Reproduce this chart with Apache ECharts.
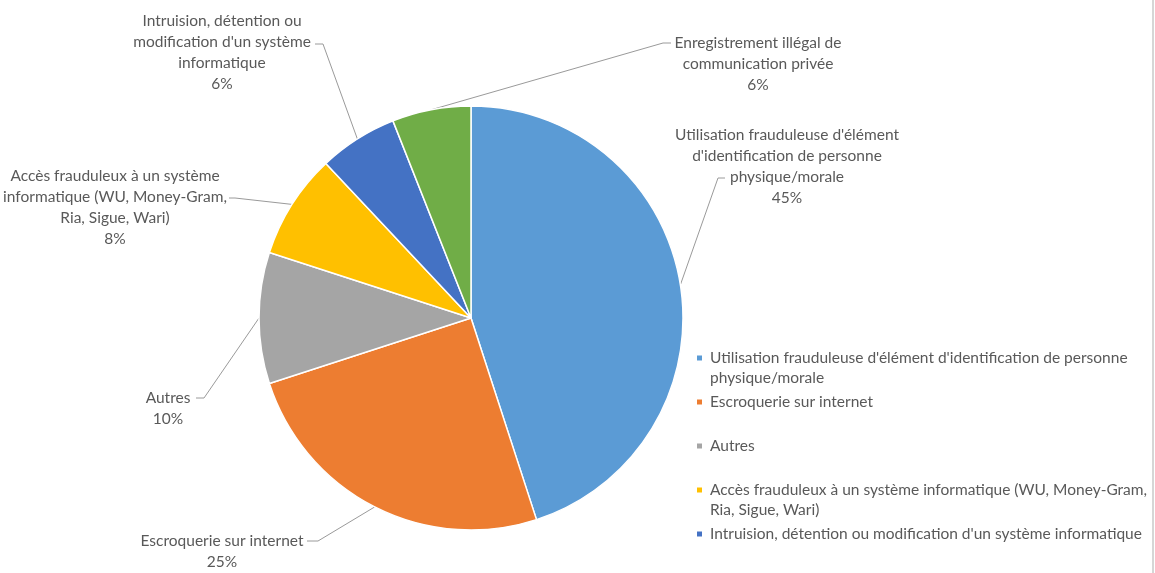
<!DOCTYPE html>
<html lang="fr">
<head>
<meta charset="utf-8">
<title>Répartition des infractions cybercriminelles</title>
<script src="https://cdn.jsdelivr.net/npm/echarts@6/dist/echarts.min.js"></script>
<style>
  html, body { margin: 0; padding: 0; background: #fff; }
  #chart { width: 1152px; height: 573px; border-right: 2px solid #d6d6d6; }
</style>
</head>
<body>
<div id="chart"></div>
<script>
// Infraction categories (legend / series names)
const categories = [
  "Utilisation frauduleuse d'élément d'identification de personne physique/morale",
  "Escroquerie sur internet",
  "Autres",
  "Accès frauduleux à un système informatique (WU, Money-Gram, Ria, Sigue, Wari)",
  "Intruision, détention ou modification d'un système informatique",
  "Enregistrement illégal de communication privée"
];

// Share of each category, in percent
const shares = [45, 25, 10, 8, 6, 6];

// Text of the data labels, broken over several lines
const labelNames = [
  "Utilisation frauduleuse d'élément\nd'identification de personne\nphysique/morale",
  "Escroquerie sur internet",
  "Autres",
  "Accès frauduleux à un système\ninformatique (WU, Money-Gram,\nRia, Sigue, Wari)",
  "Intruision, détention ou\nmodification d'un système\ninformatique",
  "Enregistrement illégal de\ncommunication privée"
];

// Text of the legend entries
const legendNames = [
  "Utilisation frauduleuse d'élément d'identification de personne\nphysique/morale",
  "Escroquerie sur internet",
  "Autres",
  "Accès frauduleux à un système informatique (WU, Money-Gram,\nRia, Sigue, Wari)",
  "Intruision, détention ou modification d'un système informatique",
  "Enregistrement illégal de communication privée"
];

// The legend box only has room for the first five entries
const legendShown = 5;

const colors = ['#5B9BD5', '#ED7D31', '#A5A5A5', '#FFC000', '#4472C4', '#70AD47'];

const FONT = "Lato, 'Noto Sans', sans-serif";
const TEXT = '#595959';

// Where each label block sits (centre x, top y) and where its leader line bends / ends
const labelPlacement = [
  { x: 787, y: 124, bend: [718, 178], end: [725, 178] },
  { x: 222, y: 530, bend: [318, 541], end: [307, 541] },
  { x: 168, y: 387, bend: [204, 398], end: [196, 398] },
  { x: 115, y: 165, bend: [235, 198], end: [229, 198] },
  { x: 222, y: 10,  bend: [323, 44],  end: [315, 44] },
  { x: 758, y: 32,  bend: [663, 43],  end: [671, 43] }
];

// Legend marker: a small square near the top of a 40px-tall box, so it lines up with the first text line
const legendIcon = 'path://M0,0M5,40M0,7.5h5v5h-5z';

const chart = echarts.init(document.getElementById('chart'), null, { renderer: 'canvas' });

const option = {
  animation: false,
  backgroundColor: '#fff',
  color: colors,
  legend: {
    orient: 'vertical',
    left: 697,
    top: 348,
    height: 400,
    padding: 0,
    itemGap: 4,
    itemWidth: 5,
    itemHeight: 40,
    selectedMode: false,
    data: categories.slice(0, legendShown).map(name => ({ name, icon: legendIcon })),
    itemStyle: { borderWidth: 0 },
    formatter: name => {
      const t = legendNames[categories.indexOf(name)];
      return t.indexOf('\n') >= 0 ? t : t + '\n ';
    },
    textStyle: {
      color: TEXT,
      fontFamily: FONT,
      fontSize: 15.5,
      lineHeight: 20,
      padding: [0, 0, 0, 3]
    }
  },
  series: [{
    type: 'pie',
    center: [471, 318],
    radius: 212,
    startAngle: 90,
    clockwise: true,
    avoidLabelOverlap: false,
    itemStyle: { borderColor: '#fff', borderWidth: 1.5 },
    label: {
      show: true,
      position: 'outside',
      color: TEXT,
      fontFamily: FONT,
      fontSize: 15.5,
      lineHeight: 21,
      align: 'center',
      formatter: p => labelNames[p.dataIndex] + '\n' + Math.round(p.percent) + '%'
    },
    labelLine: {
      show: true,
      length: 20,
      length2: 10,
      lineStyle: { color: '#9a9a9a', width: 1 }
    },
    labelLayout: params => {
      const pl = labelPlacement[params.dataIndex];
      const start = params.labelLinePoints && params.labelLinePoints[0];
      const out = { x: pl.x, y: pl.y, align: 'center', verticalAlign: 'top' };
      if (start) out.labelLinePoints = [start, pl.bend, pl.end];
      return out;
    },
    emphasis: { disabled: true },
    data: categories.map((name, i) => ({ name, value: shares[i] }))
  }]
};

chart.setOption(option);
</script>
</body>
</html>
